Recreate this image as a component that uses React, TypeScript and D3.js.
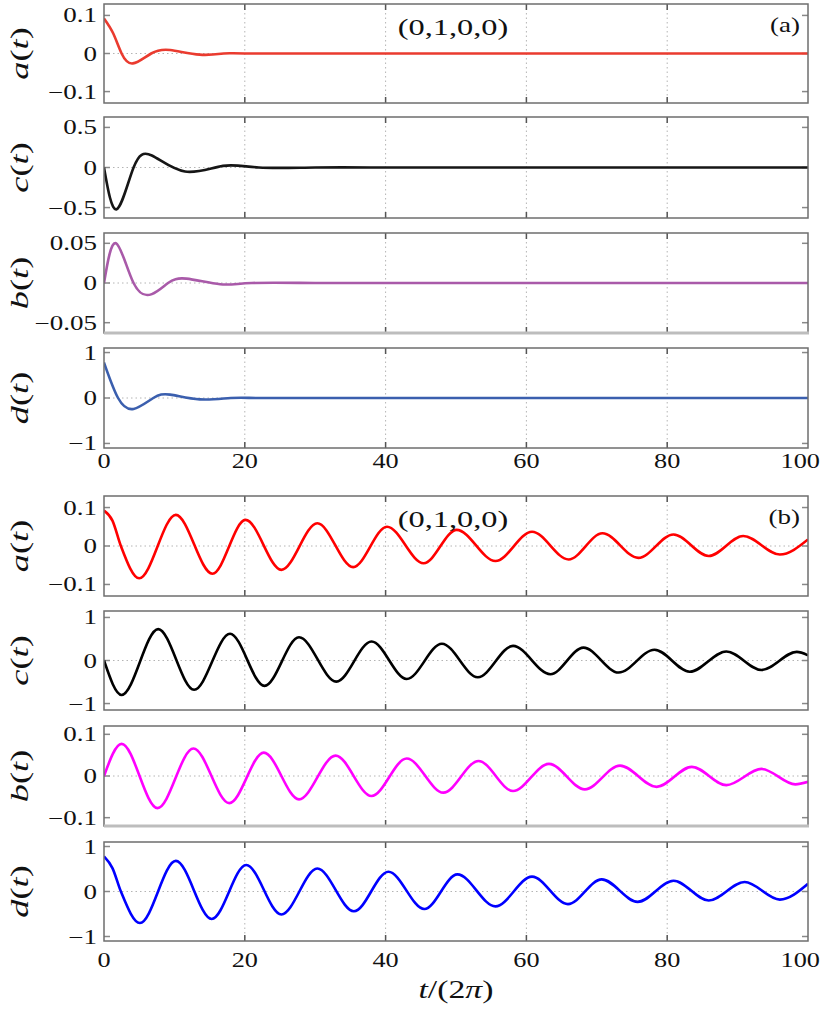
import * as d3 from "d3";

type Pt = [number, number];

// time axis
const T_DOMAIN: [number, number] = [0, 100];
const T_TICKS = [0, 20, 40, 60, 80, 100];
const T_GRID = [20, 40, 60, 80];

// panel (a): strongly damped response (flat at 0 after t≈20)
const aDamped: Pt[] = [[0, 0.092], [1.3, 0.053], [2.5, 0], [4.1, -0.026], [6.7, 0], [9.4, 0.009], [13.6, -0.003], [17, 0], [20, 0], [30, 0], [40, 0], [50, 0], [60, 0], [70, 0], [80, 0], [90, 0], [100, 0]];
const cDamped: Pt[] = [[0, 0], [1.8, -0.52], [4.2, 0], [6.8, 0.15], [11.5, -0.05], [16.9, 0.02], [22, 0], [30, 0], [40, 0], [50, 0], [60, 0], [70, 0], [80, 0], [90, 0], [100, 0]];
const bDamped: Pt[] = [[0, 0], [1.7, 0.05], [4.2, 0], [6.8, -0.014], [9.1, 0], [11.7, 0.0055], [16.5, -0.0016], [21, 0], [30, 0], [40, 0], [50, 0], [60, 0], [70, 0], [80, 0], [90, 0], [100, 0]];
const dDamped: Pt[] = [[0, 0.78], [2.0, 0], [4.2, -0.24], [7.0, 0], [9.4, 0.075], [13.6, -0.03], [18, 0], [22, 0], [30, 0], [40, 0], [50, 0], [60, 0], [70, 0], [80, 0], [90, 0], [100, 0]];

// panel (b): weakly damped oscillation (extrema)
const aOsc: Pt[] = [[0, 0.092], [1.2, 0.066], [2.4, 0], [5.0, -0.084], [10.2, 0.081], [15.4, -0.072], [20.1, 0.068], [25.2, -0.062], [30.3, 0.059], [35.4, -0.055], [40.2, 0.05], [45.4, -0.045], [50.1, 0.042], [55.6, -0.039], [60.8, 0.037], [66.0, -0.035], [70.8, 0.033], [75.9, -0.031], [80.9, 0.03], [85.9, -0.026], [90.8, 0.026], [96.0, -0.022], [100, 0.017]];
const cOsc: Pt[] = [[0, 0], [2.5, -0.8], [7.7, 0.73], [12.8, -0.68], [17.9, 0.62], [22.8, -0.59], [27.7, 0.54], [33.0, -0.49], [38.0, 0.44], [43.0, -0.43], [48.0, 0.39], [53.1, -0.39], [58.1, 0.34], [63.4, -0.32], [68.1, 0.3], [73.1, -0.28], [78.2, 0.25], [83.2, -0.26], [88.4, 0.21], [93.4, -0.22], [98.4, 0.2], [100, 0.12]];
const bOsc: Pt[] = [[0, 0], [2.5, 0.077], [7.6, -0.077], [12.7, 0.066], [17.8, -0.065], [22.7, 0.056], [27.7, -0.056], [32.9, 0.049], [38.0, -0.048], [43.0, 0.042], [48.2, -0.04], [53.2, 0.036], [58.1, -0.036], [63.2, 0.029], [68.3, -0.032], [73.3, 0.025], [78.5, -0.026], [83.5, 0.022], [88.4, -0.022], [93.4, 0.017], [98.2, -0.02], [100, -0.014]];
const dOsc: Pt[] = [[0, 0.78], [1.2, 0.52], [2.4, 0], [5.1, -0.7], [10.2, 0.68], [15.3, -0.61], [20.2, 0.59], [25.2, -0.51], [30.3, 0.51], [35.5, -0.44], [40.4, 0.44], [45.5, -0.39], [50.2, 0.38], [55.6, -0.33], [60.8, 0.33], [65.9, -0.28], [70.7, 0.27], [75.8, -0.23], [80.9, 0.24], [85.9, -0.2], [91.0, 0.21], [96.0, -0.18], [100, 0.17]];

const ROW_NAMES = ["a", "c", "b", "d"];
const Y_TICKS_A = [[-0.1, 0, 0.1], [-0.5, 0, 0.5], [-0.05, 0, 0.05], [-1, 0, 1]];
const Y_TICKS_B = [[-0.1, 0, 0.1], [-1, 0, 1], [-0.1, 0, 0.1], [-1, 0, 1]];
const Y_DOMAIN_A: [number, number][] = [[-0.13, 0.13], [-0.63, 0.63], [-0.063, 0.063], [-1.1, 1.1]];
const Y_DOMAIN_B: [number, number][] = [[-0.13, 0.13], [-1.15, 1.15], [-0.12, 0.12], [-1.1, 1.1]];
const STATE_LABEL = "(0,1,0,0)";
const PANEL_TAGS = ["(a)", "(b)"];

const W = 821;
const H = 1009;
const LEFT = 104;
const RIGHT = 808;
const ROWS_A: [number, number][] = [[4, 103], [117, 218], [233, 333], [348, 448]];
const ROWS_B: [number, number][] = [[496, 596], [611, 710], [726, 826], [842, 941]];
const FONT = "'Liberation Serif', 'DejaVu Serif', serif";
const SX = 1.35; // glyphs in the figure are stretched horizontally

const COLORS_A = ["#ea3b2f", "#161616", "#a95aa9", "#3b5fae"];
const COLORS_B = ["#ff0000", "#000000", "#ff00ff", "#0000ff"];

const fmt = (v: number) => String(v).replace("-", "\u2212");

const x = d3.scaleLinear().domain(T_DOMAIN).range([LEFT, RIGHT]);

type SubProps = {
  id: string;
  rows: [number, number];
  data: Pt[];
  domain: [number, number];
  ticks: number[];
  color: string;
  name: string;
  smooth: d3.CurveFactory;
  lightBottom: boolean;
};

function Subplot({ id, rows, data, domain, ticks, color, name, smooth, lightBottom }: SubProps) {
  const [top, bottom] = rows;
  const y = d3.scaleLinear().domain(domain).range([bottom, top]);
  const line = d3
    .line<Pt>()
    .x((d) => x(d[0]))
    .y((d) => y(d[1]))
    .curve(smooth);
  const mid = (top + bottom) / 2;
  return (
    <g>
      <clipPath id={id}>
        <rect x={LEFT} y={top} width={RIGHT - LEFT} height={bottom - top} />
      </clipPath>
      {/* grid */}
      {T_GRID.map((t) => (
        <line key={t} x1={x(t)} x2={x(t)} y1={top} y2={bottom} stroke="#b4b4b4" strokeWidth={1} strokeDasharray="1.5,3" />
      ))}
      <line x1={LEFT} x2={RIGHT} y1={y(0)} y2={y(0)} stroke="#b4b4b4" strokeWidth={1} strokeDasharray="1.5,3" />
      {/* x ticks top and bottom */}
      {T_GRID.map((t) => (
        <g key={"xt" + t} stroke="#555" strokeWidth={1.5}>
          <line x1={x(t)} x2={x(t)} y1={top} y2={top + 6} />
          <line x1={x(t)} x2={x(t)} y1={bottom} y2={bottom - 6} />
        </g>
      ))}
      {/* y ticks */}
      {ticks.map((v) => (
        <g key={"yt" + v} stroke="#888" strokeWidth={1.5}>
          <line x1={LEFT} x2={LEFT + 6} y1={y(v)} y2={y(v)} />
          <line x1={RIGHT} x2={RIGHT - 6} y1={y(v)} y2={y(v)} />
        </g>
      ))}
      <path d={line(data) ?? ""} fill="none" stroke={color} strokeWidth={2.6} clipPath={`url(#${id})`} />
      {/* frame */}
      <rect x={LEFT} y={top} width={RIGHT - LEFT} height={bottom - top} fill="none" stroke="#6e6e6e" strokeWidth={1.5} />
      {lightBottom && <line x1={LEFT} x2={RIGHT + 1} y1={bottom} y2={bottom} stroke="#bdbdbd" strokeWidth={3} />}
      {/* y tick labels */}
      {ticks.map((v) => (
        <text
          key={"yl" + v}
          transform={`translate(97,${y(v)}) scale(${SX},1)`}
          textAnchor="end"
          dy="0.35em"
          fontSize={20}
          fontFamily={FONT}
          fill="#111"
        >
          {fmt(v)}
        </text>
      ))}
      {/* y label */}
      <text
        transform={`translate(28,${mid}) rotate(-90) scale(1.4,1)`}
        textAnchor="middle"
        fontSize={26}
        fontFamily={FONT}
        fill="#111"
      >
        <tspan fontStyle="italic">{name}</tspan>(<tspan fontStyle="italic">t</tspan>)
      </text>
    </g>
  );
}

function Panel({ rows, series, domains, ticks, colors, tag, prefix, smooth, xTickY }: {
  rows: [number, number][];
  series: Pt[][];
  domains: [number, number][];
  ticks: number[][];
  colors: string[];
  tag: string;
  prefix: string;
  smooth: d3.CurveFactory;
  xTickY: number;
}) {
  const top = rows[0][0];
  return (
    <g>
      {rows.map((r, i) => (
        <Subplot
          key={i}
          id={`${prefix}${i}`}
          rows={r}
          data={series[i]}
          domain={domains[i]}
          ticks={ticks[i]}
          color={colors[i]}
          name={ROW_NAMES[i]}
          smooth={smooth}
          lightBottom={i === 2}
        />
      ))}
      <text transform={`translate(453,${top + 31}) scale(${SX},1)`} textAnchor="middle" fontSize={24} fontFamily={FONT} fill="#111">
        {STATE_LABEL}
      </text>
      <text transform={`translate(800,${top + 28}) scale(${SX},1)`} textAnchor="end" fontSize={20} fontFamily={FONT} fill="#111">
        {tag}
      </text>
      {T_TICKS.map((t) => {
        const last = t === T_DOMAIN[1];
        return (
          <text
            key={t}
            transform={`translate(${last ? 820 : x(t)},${xTickY}) scale(1.25,1)`}
            textAnchor={last ? "end" : "middle"}
            fontSize={21}
            fontFamily={FONT}
            fill="#111"
          >
            {t}
          </text>
        );
      })}
    </g>
  );
}

export default function App() {
  return (
    <svg width={W} height={H} style={{ position: "absolute", left: 0, top: 0, background: "#fff" }}>
      <rect width={W} height={H} fill="#fff" />
      <Panel
        rows={ROWS_A}
        series={[aDamped, cDamped, bDamped, dDamped]}
        domains={Y_DOMAIN_A}
        ticks={Y_TICKS_A}
        colors={COLORS_A}
        tag={PANEL_TAGS[0]}
        prefix="clipA"
        smooth={d3.curveNatural}
        xTickY={468}
      />
      <Panel
        rows={ROWS_B}
        series={[aOsc, cOsc, bOsc, dOsc]}
        domains={Y_DOMAIN_B}
        ticks={Y_TICKS_B}
        colors={COLORS_B}
        tag={PANEL_TAGS[1]}
        prefix="clipB"
        smooth={d3.curveMonotoneX}
        xTickY={967}
      />
      <text transform={`translate(456,998) scale(${SX},1)`} textAnchor="middle" fontSize={25} fontFamily={FONT} fill="#111">
        <tspan fontStyle="italic">t</tspan>/(2<tspan fontStyle="italic">π</tspan>)
      </text>
    </svg>
  );
}
